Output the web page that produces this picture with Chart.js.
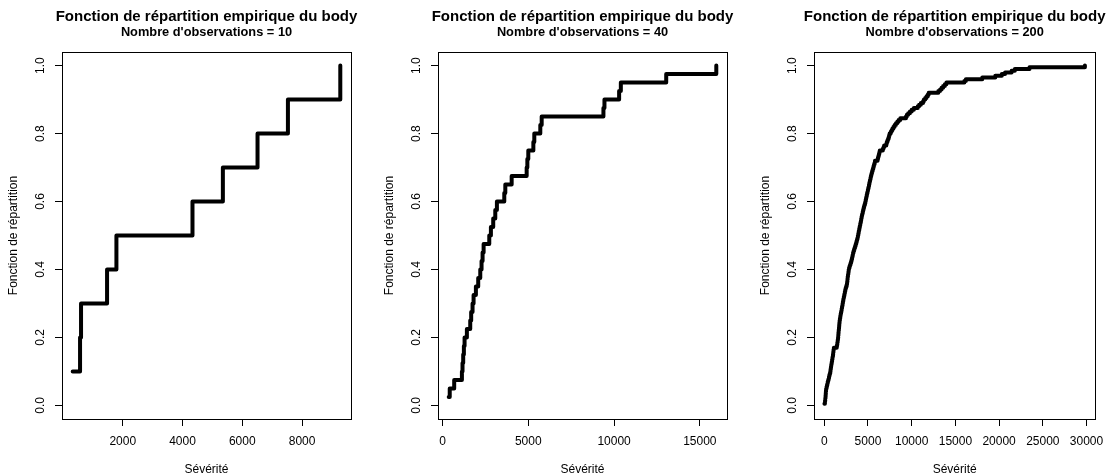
<!DOCTYPE html>
<html lang="fr">
<head>
<meta charset="utf-8">
<title>Fonction de répartition empirique du body</title>
<script src="https://cdn.jsdelivr.net/npm/chart.js@4.4.1/dist/chart.umd.min.js"></script>
<style>
    html, body { margin: 0; padding: 0; background: #fff; }
    body { width: 1112px; height: 476px; overflow: hidden; position: relative; }
    canvas { position: absolute; top: 0; }
</style>
</head>
<body>
<canvas id="ecdf10" width="376" height="476" style="left:0"></canvas>
<canvas id="ecdf40" width="376" height="476" style="left:376px"></canvas>
<canvas id="ecdf200" width="360" height="476" style="left:752px"></canvas>
<script>
// Sévérités observées (triées), un tableau par taille d'échantillon
const severite10 = [324, 570, 603, 1474, 1787, 4333, 5350, 6510, 7527, 9280];

const severite40 = [
    360, 420, 680, 1130, 1165, 1205, 1245, 1285, 1420, 1615,
    1670, 1750, 1810, 1945, 2080, 2200, 2275, 2335, 2395, 2725,
    2820, 2955, 3075, 3170, 3600, 3660, 4030, 4905, 4945, 5000,
    5295, 5350, 5700, 5780, 9380, 9440, 10295, 10395, 13040, 15960
];

const severite200 = [
    20, 75, 95, 120, 140, 155, 170, 185, 200, 220,
    265, 310, 360, 400, 450, 500, 545, 590, 640, 690,
    715, 745, 775, 800, 835, 870, 900, 935, 965, 1000,
    1020, 1045, 1070, 1100, 1430, 1470, 1500, 1530, 1555, 1580,
    1600, 1615, 1630, 1650, 1670, 1690, 1705, 1720, 1740, 1760,
    1790, 1820, 1850, 1880, 1920, 1960, 1995, 2030, 2065, 2100,
    2130, 2165, 2200, 2240, 2280, 2320, 2360, 2400, 2440, 2500,
    2560, 2600, 2625, 2650, 2670, 2690, 2720, 2750, 2775, 2800,
    2840, 2900, 2960, 3020, 3080, 3130, 3180, 3220, 3260, 3300,
    3360, 3420, 3480, 3540, 3600, 3660, 3710, 3760, 3810, 3850,
    3890, 3930, 3960, 4000, 4040, 4080, 4120, 4160, 4200, 4230,
    4270, 4310, 4350, 4400, 4440, 4490, 4540, 4590, 4650, 4700,
    4740, 4780, 4820, 4860, 4900, 4950, 4990, 5030, 5080, 5120,
    5160, 5200, 5240, 5290, 5330, 5380, 5430, 5480, 5540, 5600,
    5650, 5700, 5760, 5800, 6100, 6150, 6200, 6250, 6300, 6350,
    6700, 6780, 6850, 7100, 7150, 7230, 7300, 7370, 7420, 7480,
    7600, 7700, 7800, 7920, 8050, 8200, 8350, 8500, 8700, 9350,
    9450, 9600, 9800, 10000, 10250, 10700, 10850, 11050, 11300, 11400,
    11550, 11700, 11850, 11950, 13050, 13250, 13420, 13600, 13800, 13975,
    16025, 16200, 18075, 19565, 20311, 20683, 21429, 21801, 23478, 29813
];

// Graduations des axes
const ticksX10 = [2000, 4000, 6000, 8000];
const ticksX40 = [0, 5000, 10000, 15000];
const ticksX200 = [0, 5000, 10000, 15000, 20000, 25000, 30000];
const ticksY = [0, 0.2, 0.4, 0.6, 0.8, 1];

const titre = "Fonction de répartition empirique du body";
const labelX = "Sévérité";
const labelY = "Fonction de répartition";

const police = "'Liberation Sans', Arial, sans-serif";
Chart.defaults.font.family = police;
Chart.defaults.font.size = 12;
Chart.defaults.color = '#000';

// Cadre autour de la zone de tracé + titre / sous-titre centrés dessus
const cadreEtTitres = {
    id: 'cadreEtTitres',
    afterDraw(chart, args, opts) {
        const { ctx, chartArea: a } = chart;
        ctx.save();
        ctx.strokeStyle = '#000';
        ctx.lineWidth = 1;
        ctx.strokeRect(Math.round(a.left) + 0.5, Math.round(a.top) + 0.5,
            Math.round(a.right - a.left), Math.round(a.bottom - a.top));

        const cx = (a.left + a.right) / 2;
        ctx.fillStyle = '#000';
        ctx.textAlign = 'center';
        ctx.textBaseline = 'alphabetic';
        ctx.font = `bold 15px ${police}`;
        ctx.fillText(opts.titre, cx, 21);
        ctx.font = `bold 12.8px ${police}`;
        ctx.fillText(opts.sousTitre, cx, 36);
        ctx.restore();
    }
};

const traitAxe = { display: true, drawOnChartArea: false, drawTicks: true, tickLength: 7, color: '#000', lineWidth: 1 };

const tracerEcdf = (id, valeurs, ticksX) => {
    const canvas = document.getElementById(id);
    const n = valeurs.length;
    const points = valeurs.map((v, i) => ({ x: v, y: (i + 1) / n }));
    // marge de 4 % de chaque côté, comme xaxs = "r"
    const etendue = valeurs[n - 1] - valeurs[0];

    new Chart(canvas, {
        type: 'line',
        data: {
            datasets: [{
                data: points,
                borderColor: '#000',
                borderWidth: 4,
                stepped: 'before',
                pointRadius: 0,
                fill: false,
                borderCapStyle: 'round',
                borderJoinStyle: 'round'
            }]
        },
        options: {
            responsive: false,
            animation: false,
            events: [],
            layout: { padding: { top: 52, left: 0, right: canvas.width - 351, bottom: 0 } },
            plugins: {
                legend: { display: false },
                tooltip: { enabled: false },
                cadreEtTitres: { titre: titre, sousTitre: `Nombre d'observations = ${n}` }
            },
            scales: {
                x: {
                    type: 'linear',
                    min: valeurs[0] - 0.04 * etendue,
                    max: valeurs[n - 1] + 0.04 * etendue,
                    afterBuildTicks: s => { s.ticks = ticksX.map(v => ({ value: v })); },
                    afterFit: s => { s.height = 57; },
                    ticks: { padding: 8.5, maxRotation: 0, autoSkip: false, callback: v => String(v) },
                    grid: traitAxe,
                    border: { display: true, color: '#000', width: 1 },
                    title: { display: true, text: labelX, font: { size: 12, lineHeight: 1 }, padding: 0 }
                },
                y: {
                    min: -0.04,
                    max: 1.04,
                    afterBuildTicks: s => { s.ticks = ticksY.map(v => ({ value: v })); },
                    afterFit: s => { s.width = 62; },
                    ticks: {
                        minRotation: 90, maxRotation: 90, crossAlign: 'center',
                        padding: 5.5, autoSkip: false,
                        callback: v => v.toFixed(1)
                    },
                    grid: traitAxe,
                    border: { display: true, color: '#000', width: 1 },
                    title: { display: true, text: labelY, font: { size: 12 }, padding: { top: 6, bottom: 0 } }
                }
            }
        },
        plugins: [cadreEtTitres]
    });
};

tracerEcdf('ecdf10', severite10, ticksX10);
tracerEcdf('ecdf40', severite40, ticksX40);
tracerEcdf('ecdf200', severite200, ticksX200);
</script>
</body>
</html>
